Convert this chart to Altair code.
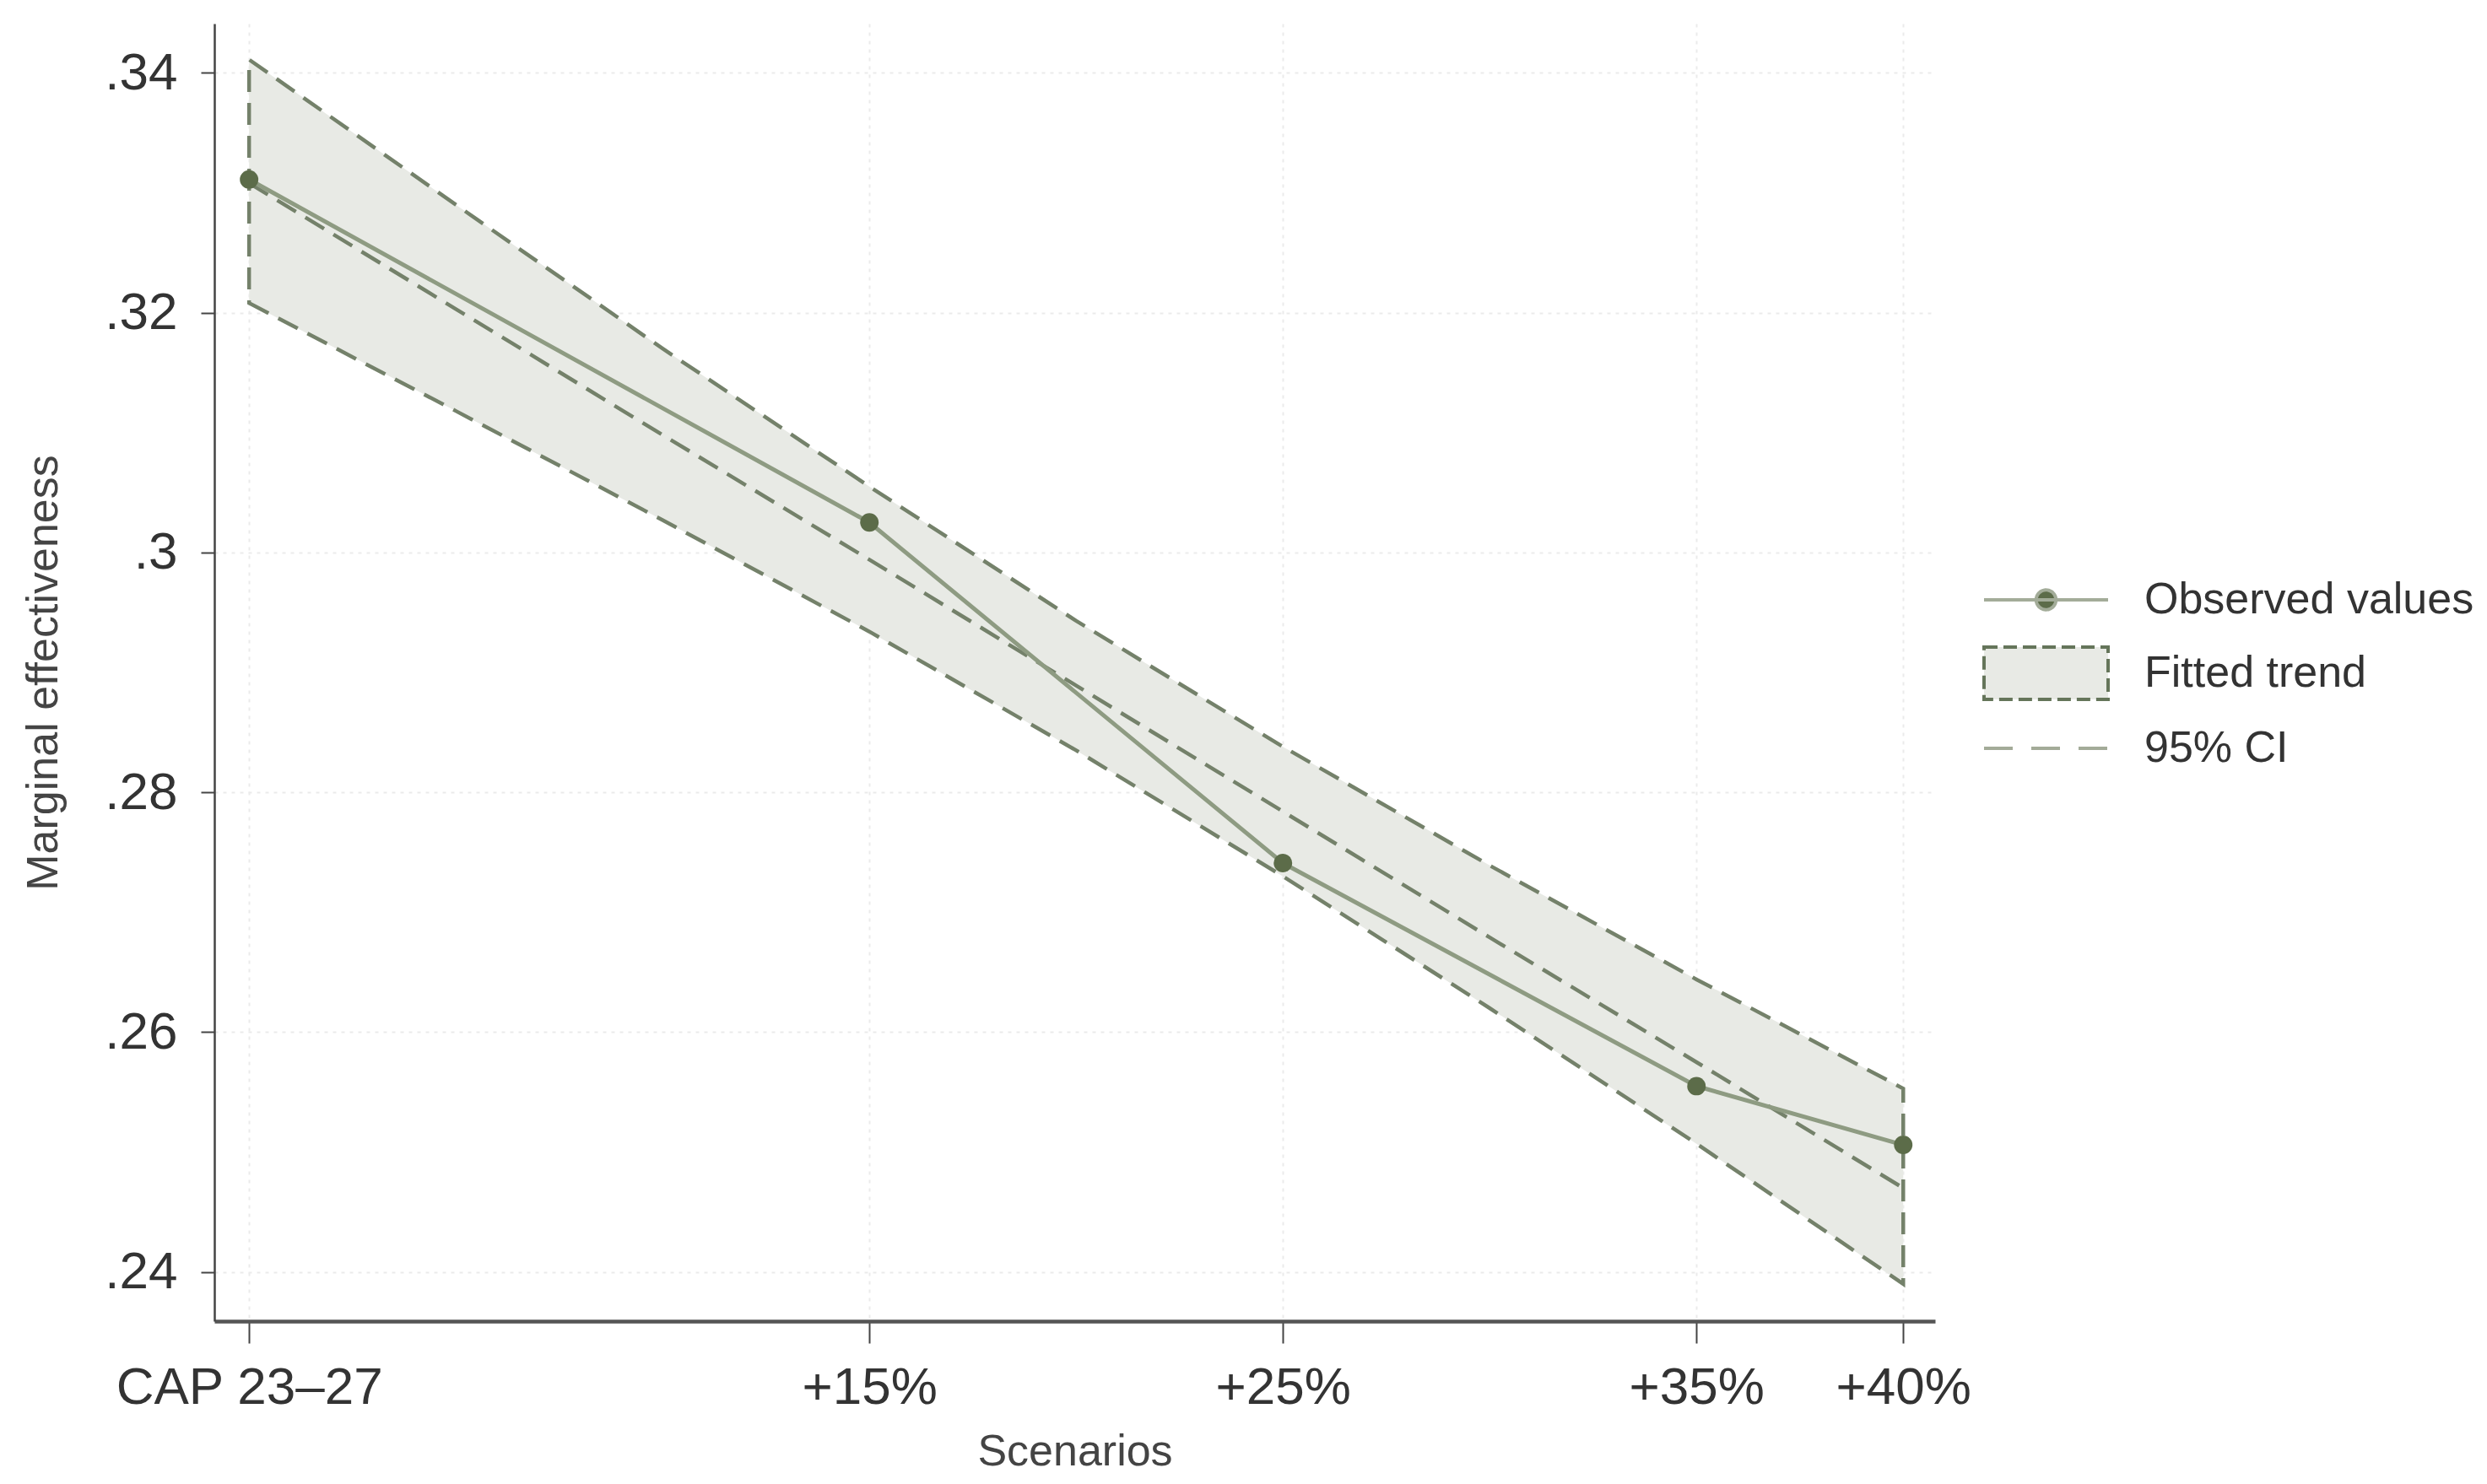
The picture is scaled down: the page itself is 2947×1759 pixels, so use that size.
import altair as alt
import pandas as pd

# ---------------- data ----------------
scenario_labels = ["CAP 23–27", "+15%", "+25%", "+35%", "+40%"]
scenario_pct = [0, 15, 25, 35, 40]
observed = [0.3311, 0.3025, 0.2741, 0.2555, 0.2506]

fit_pct = [0, 5, 10, 15, 20, 25, 30, 35, 40]
fitted = [0.3308, 0.3203, 0.3098, 0.2994, 0.2889, 0.2784, 0.2679, 0.2575, 0.2470]
ci_upper = [0.3411, 0.3290, 0.3170, 0.3055, 0.2943, 0.2838, 0.2739, 0.2644, 0.2553]
ci_lower = [0.3208, 0.3118, 0.3027, 0.2934, 0.2835, 0.2730, 0.2620, 0.2507, 0.2390]

y_ticks = [0.24, 0.26, 0.28, 0.30, 0.32, 0.34]
legend_labels = ["Observed values", "Fitted trend", "95% CI"]

# ---------------- styling ----------------
FONT = "Liberation Sans"
BAND_FILL = "#e8eae5"
DASH_COL = "#74816a"
OBS_LINE = "#8e9b82"
OBS_DOT = "#5c6c49"

obs_df = pd.DataFrame({"pct": scenario_pct, "value": observed, "label": scenario_labels})
fit_df = pd.DataFrame({"pct": fit_pct, "fit": fitted, "lo": ci_lower, "hi": ci_upper})
leg_df = pd.DataFrame({"series": legend_labels})

label_expr = " : ".join(
    f"datum.value == {p} ? '{l}'" for p, l in zip(scenario_pct, scenario_labels)
) + " : ''"

x_scale = alt.Scale(domain=[-0.84, 40.77], nice=False, zero=False)
y_scale = alt.Scale(domain=[0.2359, 0.3441], nice=False, zero=False)

x_axis = alt.Axis(
    values=scenario_pct, labelExpr=label_expr, title="Scenarios", labelLimit=0,
    grid=True, gridColor="#ebebeb", gridDash=[4, 6], gridWidth=2,
    domainColor="#555555", domainWidth=4.5, tickColor="#444444", tickWidth=2,
    tickSize=26, labelPadding=22, labelFontSize=62, labelFont=FONT, labelColor="#333333",
    titleFont=FONT, titleFontSize=52, titleFontWeight="normal", titleColor="#444444",
    titlePadding=20,
)
y_axis = alt.Axis(
    values=y_ticks, labelExpr="substring(format(datum.value, '.2~f'), 1)",
    title="Marginal effectiveness", labelLimit=0,
    grid=True, gridColor="#ebebeb", gridDash=[4, 6], gridWidth=2,
    domainColor="#444444", domainWidth=2.5, tickColor="#444444", tickWidth=2,
    tickSize=16, labelPadding=28, labelFontSize=62, labelFont=FONT, labelColor="#333333",
    titleFont=FONT, titleFontSize=52, titleFontWeight="normal", titleColor="#444444",
    titlePadding=45,
)

x = alt.X("pct:Q", scale=x_scale, axis=x_axis)

band = alt.Chart(fit_df).mark_area(
    fill=BAND_FILL, stroke=DASH_COL, strokeWidth=4.5, strokeDash=[26, 13]
).encode(x=x, y=alt.Y("lo:Q", scale=y_scale, axis=y_axis), y2="hi:Q")

fit_line = alt.Chart(fit_df).mark_line(
    color=DASH_COL, strokeWidth=4.5, strokeDash=[26, 13]
).encode(x=x, y=alt.Y("fit:Q", scale=y_scale))

obs_line = alt.Chart(obs_df).mark_line(color=OBS_LINE, strokeWidth=5).encode(
    x=x, y=alt.Y("value:Q", scale=y_scale)
)
obs_pts = alt.Chart(obs_df).mark_point(filled=True, color=OBS_DOT, opacity=1, size=480).encode(
    x=x, y=alt.Y("value:Q", scale=y_scale)
)

# legend carrier (invisible marks, visible legend)
# symbol unit = 26 px (symbolSize 52^2); paths run 147 px to the right of the entry start
shape_paths = [
    "M-1,0H4.654M2.277,0A0.45,0.45,0,1,1,1.377,0A0.45,0.45,0,1,1,2.277,0Z",
    "M-1,-1.19H4.654V1.19H-1Z",
    "M-1,0H4.654",
]
leg = alt.Legend(
    orient="none", legendX=2095, legendY=655, title=None, labelLimit=0,
    labelFont=FONT, labelFontSize=52, labelColor="#333333", labelOffset=136,
    rowPadding=22, symbolSize=2704, symbolStrokeWidth=4, padding=0,
)
legend_layer = alt.Chart(leg_df).mark_point(filled=True, opacity=0).encode(
    shape=alt.Shape("series:N", scale=alt.Scale(domain=legend_labels, range=shape_paths), legend=leg),
    fill=alt.Fill("series:N", scale=alt.Scale(domain=legend_labels,
                                              range=[OBS_DOT, BAND_FILL, "transparent"]), legend=leg),
    stroke=alt.Stroke("series:N", scale=alt.Scale(domain=legend_labels,
                                                  range=["#a3ac99", "#65755a", "#a3ab98"]), legend=leg),
    strokeDash=alt.StrokeDash("series:N", scale=alt.Scale(domain=legend_labels,
                                                          range=[[1, 0], [16, 7], [34, 22]]), legend=leg),
)

chart = alt.layer(band, fit_line, obs_line, obs_pts, legend_layer).properties(
    width=2039, height=1538,
    autosize=alt.AutoSizeParams(type="none"),
    padding={"left": 246, "top": 20, "right": 640, "bottom": 180},
    background="white",
).configure_view(stroke=None).configure_legend(
    symbolOpacity=1, symbolFillColor="#ffffff", symbolStrokeColor="#888888"
)

chart.save("out.html", embed_options={"renderer": "svg", "actions": False})
